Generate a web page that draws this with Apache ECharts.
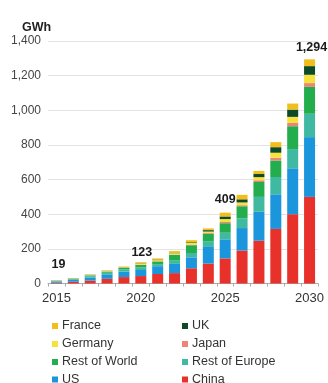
<!DOCTYPE html>
<html><head><meta charset="utf-8">
<script src="https://cdn.jsdelivr.net/npm/echarts@6/dist/echarts.min.js"></script>
<style>html,body{margin:0;padding:0;background:#fff}#c{width:328px;height:383px}</style>
</head><body><div id="c"></div>
<script>
const years = ['2015','2016','2017','2018','2019','2020','2021','2022','2023','2024','2025','2026','2027','2028','2029','2030'];
const china        = [4, 10, 17, 27, 37, 43, 55, 60, 88, 115, 145, 190, 247, 315, 400, 500];
const us           = [7, 11, 18, 26, 32, 35, 45, 53, 63, 96, 110, 130, 167, 200, 265, 345];
const restOfEurope = [3, 4, 7, 9, 12, 15, 12, 19, 25, 33, 38, 56, 86, 100, 111, 135];
const restOfWorld  = [2, 3, 5, 7, 9, 14, 15, 33, 45, 44, 55, 70, 86, 95, 132, 155];
const japan        = [1, 1, 1, 1, 1, 2, 2, 2, 3, 4, 7, 6, 10, 16, 19, 22];
const germany      = [1, 1, 2, 3, 3, 5, 6, 8, 10, 8, 17, 16, 18, 29, 35, 48];
const uk           = [0.5, 0.5, 1, 1, 1, 2, 3, 3, 4, 8, 15, 18, 18, 32, 42, 50];
const france       = [0.5, 1, 1, 2, 3, 7, 7, 9, 12, 10, 22, 26, 18, 29, 35, 39];
const totalLabels  = {0: '19', 5: '123', 10: '409', 15: '1,294'};
const yTicks = [0, 200, 400, 600, 800, 1000, 1200, 1400];
const legendOrder = ['France', 'UK', 'Germany', 'Japan', 'Rest of World', 'Rest of Europe', 'US', 'China'];

const seriesDefs = [
  ['China', china, '#e8312b'],
  ['US', us, '#1b95dc'],
  ['Rest of Europe', restOfEurope, '#40b9a3'],
  ['Rest of World', restOfWorld, '#23ad4c'],
  ['Japan', japan, '#e98579'],
  ['Germany', germany, '#f7e23c'],
  ['UK', uk, '#0c4a28'],
  ['France', france, '#f2be1c']
];
const labelCfg = {
  0: {distance: 9, offset: [2, 0]},
  5: {distance: 3, offset: [1, 0]},
  10: {distance: 7, offset: [0, 0]},
  15: {distance: 5, offset: [2, 0]}
};
const series = seriesDefs.map(([name, vals, color], si) => ({
  name, type: 'bar', stack: 'total', barWidth: 11,
  itemStyle: {color},
  data: vals.map((v, i) => {
    if (si === seriesDefs.length - 1 && totalLabels[i] !== undefined) {
      return {value: v, label: {show: true, position: 'top', distance: labelCfg[i].distance, offset: labelCfg[i].offset,
        formatter: totalLabels[i], fontFamily: 'Liberation Sans', fontWeight: 'bold', fontSize: 12.5, color: '#1a1a1a'}};
    }
    return v;
  })
}));

// legend layout: two columns, four rows
const colLeft = [52, 182];
const rowCenter = [325, 343, 361, 378.5];
const legends = legendOrder.map((name, k) => ({
  data: [name], orient: 'horizontal',
  left: colLeft[k % 2], top: rowCenter[Math.floor(k / 2)] - 5.5,
  icon: 'rect', itemWidth: 6, itemHeight: 6, padding: 0, selectedMode: false,
  textStyle: {fontFamily: 'Liberation Sans', fontSize: 12.5, color: '#333', padding: [0, 0, 0, -1]}
}));

const chart = echarts.init(document.getElementById('c'), null, {renderer: 'canvas'});
chart.setOption({
  animation: false,
  backgroundColor: '#fff',
  title: {text: 'GWh', left: 17, top: 16, textStyle: {fontFamily: 'Liberation Sans', fontSize: 12.5, fontWeight: 'bold', color: '#222'}},
  grid: {left: 48, right: 10, top: 41, bottom: 99.5},
  xAxis: {
    type: 'category', data: years,
    axisLine: {lineStyle: {color: '#aaa'}},
    axisTick: {show: true, interval: 0, length: 3, lineStyle: {color: '#aaa'}},
    axisLabel: {interval: 4, fontFamily: 'Liberation Sans', fontSize: 13, color: '#333', margin: 8}
  },
  yAxis: {
    type: 'value', min: 0, max: 1400, interval: 200,
    axisLine: {show: false}, axisTick: {show: false},
    splitLine: {lineStyle: {color: '#e3e3e3'}},
    axisLabel: {fontFamily: 'Liberation Sans', fontSize: 12, color: '#444', margin: 7,
      formatter: v => yTicks.includes(v) ? v.toLocaleString('en-US') : ''}
  },
  legend: legends,
  series
});
</script></body></html>
